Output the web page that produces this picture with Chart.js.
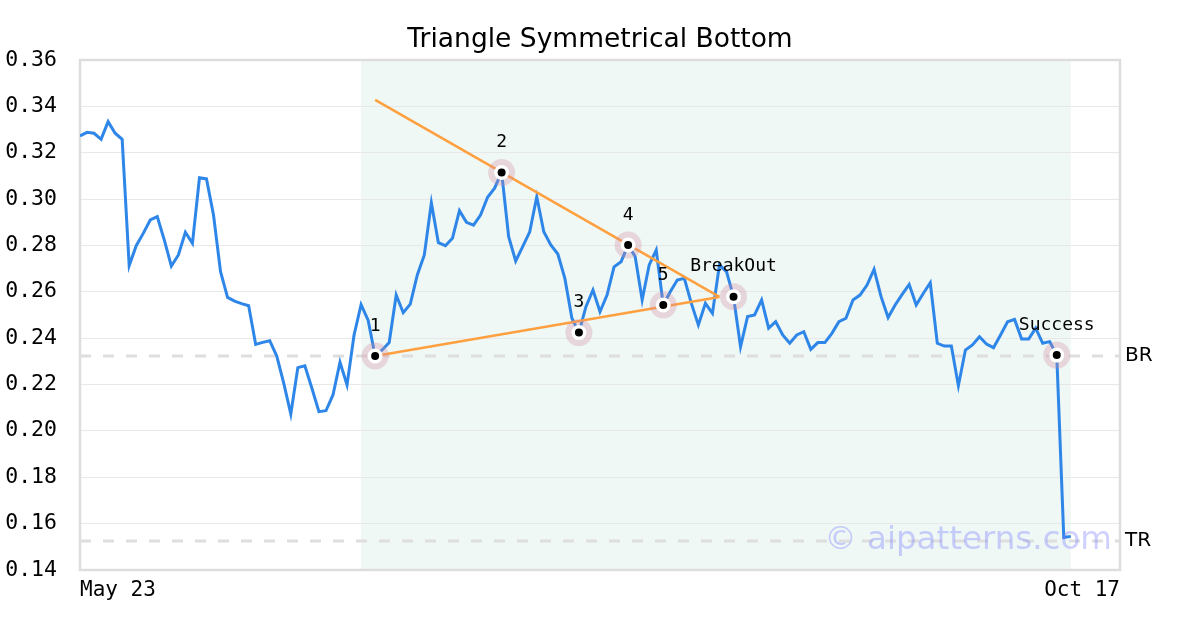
<!DOCTYPE html>
<html>
<head>
<meta charset="utf-8">
<title>Triangle Symmetrical Bottom</title>
<script src="https://cdn.jsdelivr.net/npm/chart.js@4"></script>
<style>
    html, body { margin: 0; padding: 0; background: #fff; }
    canvas { display: block; }
</style>
</head>
<body>
<canvas id="chart" width="1200" height="630"></canvas>
<script>
// Daily closes, one per trading day from May 23 to Oct 17
const prices = [
    0.3272, 0.3288, 0.3284, 0.3258, 0.3334, 0.3284, 0.3258, 0.2713, 0.2799, 0.2852,
    0.2910, 0.2924, 0.2823, 0.2711, 0.2759, 0.2857, 0.2809, 0.3092, 0.3087, 0.2931,
    0.2687, 0.2576, 0.2560, 0.2549, 0.2540, 0.2373, 0.2382, 0.2389, 0.2323, 0.2205,
    0.2073, 0.2273, 0.2281, 0.2184, 0.2083, 0.2087, 0.2155, 0.2296, 0.2198, 0.2414,
    0.2545, 0.2478, 0.2323, 0.2349, 0.2381, 0.2586, 0.2510, 0.2547, 0.2673, 0.2759,
    0.2984, 0.2812, 0.2799, 0.2831, 0.2950, 0.2900, 0.2888, 0.2931, 0.3008, 0.3047,
    0.3115, 0.2838, 0.2733, 0.2795, 0.2859, 0.3010, 0.2859, 0.2802, 0.2763, 0.2658,
    0.2486, 0.2424, 0.2536, 0.2608, 0.2514, 0.2586, 0.2708, 0.2730, 0.2802, 0.2752,
    0.2565, 0.2716, 0.2780, 0.2543, 0.2600, 0.2651, 0.2658, 0.2550, 0.2457, 0.2550,
    0.2507, 0.2716, 0.2687, 0.2579, 0.2363, 0.2493, 0.2500, 0.2565, 0.2443, 0.2471,
    0.2414, 0.2378, 0.2414, 0.2428, 0.2352, 0.2381, 0.2381, 0.2421, 0.2471, 0.2486,
    0.2565, 0.2586, 0.2629, 0.2697, 0.2579, 0.2489, 0.2543, 0.2589, 0.2632, 0.2543,
    0.2593, 0.2639, 0.2378, 0.2366, 0.2366, 0.2195, 0.2349, 0.2371, 0.2406, 0.2375,
    0.2359, 0.2414, 0.2471, 0.2481, 0.2396, 0.2396, 0.2443, 0.2378, 0.2385, 0.2327,
    0.1540, 0.1545
];

// x axis: first and last date labels, axis runs a bit past the data
const xLabels = ['May 23', 'Oct 17'];
const xMax = 148;

// pattern points (index into prices) and their labels
const patternIdx = [42, 60, 71, 78, 83, 93, 139];
const patternLabels = ['1', '2', '3', '4', '5', 'BreakOut', 'Success'];

// triangle trend lines: [startIdx, startVal, endIdx, endVal]
const upperLine = [42, 0.3428, 91, 0.2578];
const lowerLine = [42, 0.2323, 91, 0.2578];

// pattern window (shaded)
const patternWindow = [40, 141];

// horizontal levels
const levelNames = ['BR', 'TR'];
const levelValues = [0.2323, 0.1525];

const chartTitle = 'Triangle Symmetrical Bottom';

const MONO = "'DejaVu Sans Mono', monospace";
const SANS = "'DejaVu Sans', sans-serif";

const seriesPoints = prices.map((y, i) => ({ x: i, y: y }));
const markerPoints = patternIdx.map(i => ({ x: i, y: prices[i] }));

/**
 * Shading, frame and text overlays
 */
const overlayPlugin = {
    id: 'overlay',
    beforeDraw(chart) {
        const { ctx, chartArea, scales } = chart;
        const x0 = scales.x.getPixelForValue(patternWindow[0]);
        const x1 = scales.x.getPixelForValue(patternWindow[1]);
        ctx.save();
        ctx.fillStyle = '#eff8f5';
        ctx.fillRect(x0, chartArea.top, x1 - x0, chartArea.bottom - chartArea.top);

        // title, centred on the whole canvas
        ctx.fillStyle = '#000';
        ctx.font = '26.5px ' + SANS;
        ctx.textAlign = 'center';
        ctx.textBaseline = 'middle';
        ctx.fillText(chartTitle, chart.width / 2, 40);
        ctx.restore();
    },
    beforeDatasetsDraw(chart) {
        const { ctx, chartArea } = chart;
        ctx.save();
        ctx.strokeStyle = '#dddddd';
        ctx.lineWidth = 2.5;
        ctx.strokeRect(chartArea.left, chartArea.top,
            chartArea.right - chartArea.left, chartArea.bottom - chartArea.top);
        ctx.restore();
    },
    afterDatasetsDraw(chart) {
        const { ctx, chartArea, scales } = chart;
        ctx.save();

        // pattern point labels
        ctx.fillStyle = '#000';
        ctx.font = '18px ' + MONO;
        ctx.textAlign = 'center';
        ctx.textBaseline = 'middle';
        patternIdx.forEach((idx, k) => {
            const px = scales.x.getPixelForValue(idx);
            const py = scales.y.getPixelForValue(prices[idx]);
            ctx.fillText(patternLabels[k], px, py - 30);
        });

        // level names on the right
        ctx.font = '20px ' + SANS;
        ctx.textAlign = 'left';
        levelValues.forEach((v, k) => {
            ctx.fillText(levelNames[k], chartArea.right + 5, scales.y.getPixelForValue(v));
        });

        // watermark
        ctx.font = '32.5px ' + SANS;
        ctx.textAlign = 'right';
        ctx.fillStyle = 'rgba(120, 120, 255, 0.35)';
        ctx.fillText('\u00a9 aipatterns.com', chartArea.right - 8, scales.y.getPixelForValue(levelValues[1]));

        ctx.restore();
    }
};

const ctx = document.getElementById('chart').getContext('2d');
const chart = new Chart(ctx, {
    type: 'line',
    data: {
        datasets: [
            ...levelValues.map(v => ({
                data: [{ x: 0, y: v }, { x: xMax, y: v }],
                borderColor: '#dedede',
                borderWidth: 3,
                borderDash: [11, 12],
                pointRadius: 0,
                order: 6
            })),
            {
                label: 'Price',
                data: seriesPoints,
                borderColor: '#2e86e8',
                borderWidth: 3,
                pointRadius: 0,
                tension: 0,
                order: 5
            },
            {
                data: [{ x: upperLine[0], y: upperLine[1] }, { x: upperLine[2], y: upperLine[3] }],
                borderColor: '#ffa040',
                borderWidth: 2.5,
                pointRadius: 0,
                order: 4
            },
            {
                data: [{ x: lowerLine[0], y: lowerLine[1] }, { x: lowerLine[2], y: lowerLine[3] }],
                borderColor: '#ffa040',
                borderWidth: 2.5,
                pointRadius: 0,
                order: 4
            },
            {
                data: markerPoints,
                showLine: false,
                pointRadius: 13.5,
                pointBackgroundColor: 'rgba(210, 135, 160, 0.3)',
                pointBorderWidth: 0,
                order: 3
            },
            {
                data: markerPoints,
                showLine: false,
                pointRadius: 5.75,
                pointBackgroundColor: '#000',
                pointBorderColor: '#fff',
                pointBorderWidth: 3.5,
                order: 2
            }
        ]
    },
    options: {
        responsive: false,
        animation: false,
        layout: {
            padding: { left: 0, right: 80, top: 60, bottom: 0 }
        },
        plugins: {
            legend: { display: false },
            tooltip: { enabled: false },
            title: { display: false }
        },
        scales: {
            x: {
                type: 'linear',
                min: 0,
                max: xMax,
                afterBuildTicks: (scale) => {
                    scale.ticks = [{ value: 0 }, { value: xMax }];
                },
                afterFit: (scale) => { scale.height = 60; },
                grid: { display: false },
                border: { display: false },
                ticks: {
                    autoSkip: false,
                    maxRotation: 0,
                    align: 'inner',
                    padding: 0,
                    color: '#000',
                    font: { family: MONO, size: 21 },
                    callback: (value) => value === 0 ? xLabels[0] : xLabels[1]
                }
            },
            y: {
                min: 0.14,
                max: 0.36,
                afterFit: (scale) => { scale.width = 80; },
                grid: { color: '#e8e8e8', lineWidth: 1, drawTicks: false },
                border: { display: false },
                ticks: {
                    stepSize: 0.02,
                    padding: 23,
                    color: '#000',
                    font: { family: MONO, size: 21.5 },
                    callback: (value) => value.toFixed(2)
                }
            }
        }
    },
    plugins: [overlayPlugin]
});
</script>
</body>
</html>
